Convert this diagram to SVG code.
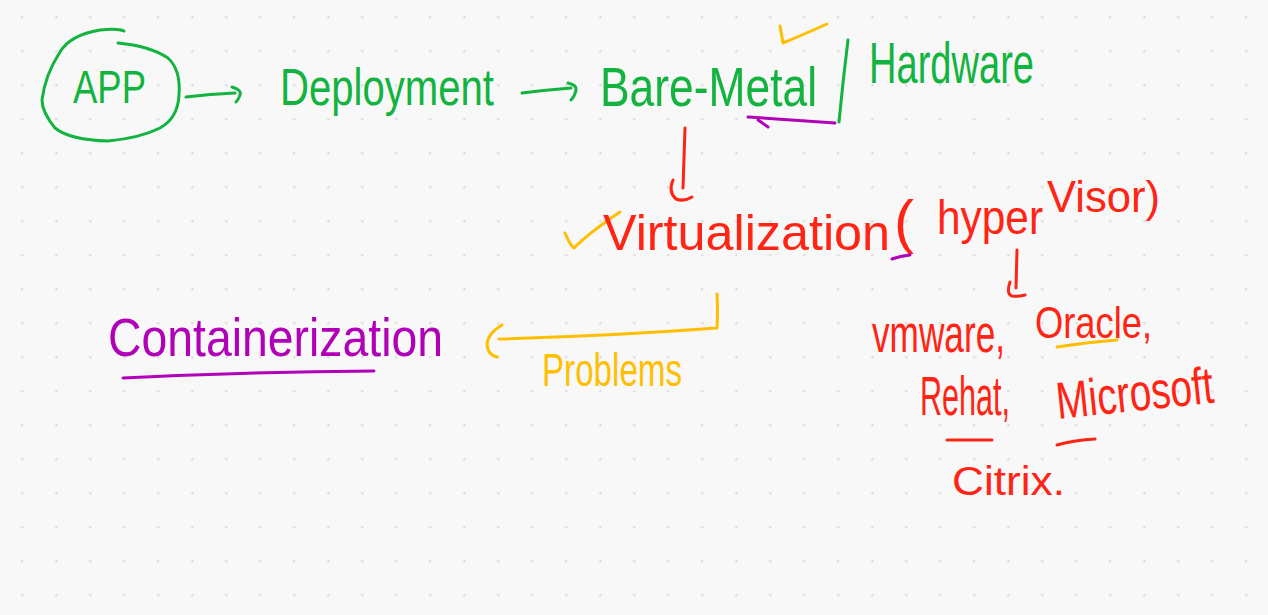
<svg xmlns="http://www.w3.org/2000/svg" width="1268" height="615" viewBox="0 0 1268 615">
  <defs>
    <pattern id="dots" patternUnits="userSpaceOnUse" x="5.3" y="0.3" width="34" height="34">
      <circle cx="17" cy="17" r="1.3" fill="#d9d9d9"/>
    </pattern>
    <style>
      .t { font-family: "Liberation Sans", Arial, sans-serif; font-weight: normal; }
      .g { fill: #12b33f; }
      .r { fill: #ff2414; }
      .o { fill: #ffbf00; }
      .p { fill: #b000b8; }
      .s { fill: none; stroke-width: 3; stroke-linecap: round; stroke-linejoin: round; }
      .sg { stroke: #12b33f; }
      .sr { stroke: #ff2414; }
      .so { stroke: #ffbf00; }
      .sp { stroke: #b000b8; }
    </style>
  </defs>
  <rect width="1268" height="615" fill="#f8f8f8"/>
  <rect width="1268" height="615" fill="url(#dots)"/>

  <g id="app">
    <path class="s sg" d="M124 31 Q118 28 100 30 Q70 35 60 52 Q45 75 42 100 Q42 112 55 128 Q70 140 108 141 Q140 138 160 128 Q178 118 179 95 Q181 70 168 58 Q150 46 118 43"/>
    <text class="t g" x="73" y="103" font-size="46" textLength="73" lengthAdjust="spacingAndGlyphs">APP</text>
  </g>

  <g id="deployment">
    <text class="t g" x="280" y="105" font-size="52" textLength="214" lengthAdjust="spacingAndGlyphs">Deployment</text>
  </g>

  <g id="bare-metal">
    <text class="t g" x="600" y="106" font-size="56" textLength="217" lengthAdjust="spacingAndGlyphs">Bare-Metal</text>
    <path class="s so" d="M780 26 L783 43 Q800 36 827 24"/>
    <path class="s sg" d="M848 40 Q843 80 839 122"/>
  </g>

  <g id="hardware">
    <text class="t g" x="869" y="83" font-size="58" textLength="165" lengthAdjust="spacingAndGlyphs">Hardware</text>
  </g>

  <g id="virtualization">
    <path class="s so" d="M565 233 Q570 245 574 248 Q590 232 620 212"/>
    <text class="t r" x="603" y="250" font-size="50" textLength="287" lengthAdjust="spacingAndGlyphs">Virtualization</text>
  </g>

  <g id="hypervisor">
    <text class="t r" x="894" y="242" font-size="60" textLength="20" lengthAdjust="spacingAndGlyphs">(</text>
    <path class="s sp" d="M892 259 Q900 256 910 255"/>
    <text class="t r" x="937" y="234" font-size="48" textLength="106" lengthAdjust="spacingAndGlyphs">hyper</text>
    <text class="t r" x="1047" y="212" font-size="44" textLength="113" lengthAdjust="spacingAndGlyphs">Visor)</text>
  </g>

  <g id="vendors">
    <text class="t r" font-size="54" transform="translate(872 352) scale(0.652 1)">vmware,</text>
    <text class="t r" x="1035" y="338" font-size="44" textLength="117" lengthAdjust="spacingAndGlyphs">Oracle,</text>
    <path class="s so" d="M1057 347 Q1090 342 1117 340"/>
    <text class="t r" x="920" y="415" font-size="56" textLength="90" lengthAdjust="spacingAndGlyphs">Rehat,</text>
    <text class="t r" x="1058" y="419" font-size="52" textLength="158" lengthAdjust="spacingAndGlyphs" transform="rotate(-6 1058 419)">Microsoft</text>
    <path class="s sr" d="M947 440 L992 440"/>
    <path class="s sr" d="M1057 445 Q1075 440 1095 439"/>
    <text class="t r" x="952" y="495" font-size="40" textLength="113" lengthAdjust="spacingAndGlyphs">Citrix.</text>
  </g>

  <g id="problems">
    <text class="t o" x="542" y="386" font-size="46" textLength="140" lengthAdjust="spacingAndGlyphs">Problems</text>
  </g>

  <g id="containerization">
    <text class="t p" x="108" y="356" font-size="54" textLength="335" lengthAdjust="spacingAndGlyphs">Containerization</text>
    <path class="s sp" d="M123 378 Q250 372 374 371"/>
  </g>

  <g id="connectors">
    <path class="s sg" d="M186 97 Q210 94 235 93"/>
    <path class="s sg" d="M232 87 Q242 90 240 95 Q239 99 236 102"/>
    <path class="s sg" d="M522 93 Q546 90 571 88"/>
    <path class="s sg" d="M568 83 Q577 85 576 90 Q575 96 571 100"/>
    <path class="s sp" d="M835 123 Q790 120 748 117"/>
    <path class="s sp" d="M758 120 Q764 124 768 127"/>
    <path class="s sr" d="M685 128 Q684 160 683 188"/>
    <path class="s sr" d="M673 180 Q668 192 676 199 Q684 202 692 197"/>
    <path class="s sr" d="M1017 250 L1016 288"/>
    <path class="s sr" d="M1010 282 Q1006 294 1012 296 Q1018 297 1025 295"/>
    <path class="s so" d="M717 294 Q718 312 717 328 Q610 336 499 339"/>
    <path class="s so" d="M502 325 Q487 334 487 345 Q488 355 497 357"/>
  </g>
</svg>
